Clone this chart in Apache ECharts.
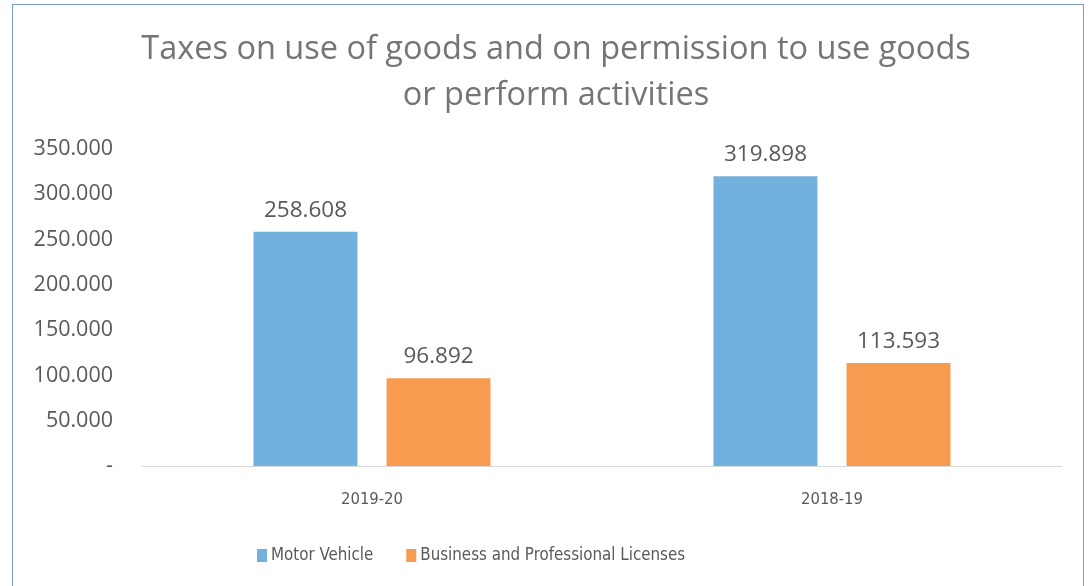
<!DOCTYPE html>
<html><head><meta charset="utf-8">
<script src="https://cdn.jsdelivr.net/npm/echarts@6/dist/echarts.min.js"></script>
<style>
html,body{margin:0;padding:0;background:#fff;}
#wrap{position:relative;width:1089px;height:586px;overflow:hidden;}
#frame{position:absolute;left:12px;top:4px;width:1072px;height:600px;border:1.5px solid #7f9bd3;box-sizing:border-box;pointer-events:none;z-index:2;}
#chart{position:absolute;left:0;top:0;width:1089px;height:586px;}
</style></head>
<body><div id="wrap"><div id="chart"></div><div id="frame"></div></div>
<script>
const titleText = 'Taxes on use of goods and on permission to use goods\nor perform activities';
const categories = ['2019-20', '2018-19'];
const motorVehicle = [258.608, 319.898];
const businessLicenses = [96.892, 113.593];
const seriesNames = ['Motor Vehicle', 'Business and Professional Licenses'];

const narrow = "'DejaVu Sans Condensed', sans-serif";
const chart = echarts.init(document.getElementById('chart'));
const fmt = v => v.toFixed(3);
chart.setOption({
  animation: false,
  title: {
    text: titleText, left: 551, textAlign: 'center', top: 22,
    textStyle: {fontFamily: 'Open Sans', fontSize: 32.5, fontWeight: 'normal', color: '#757575', lineHeight: 46}
  },
  legend: {
    top: 542, left: 252, itemWidth: 10, itemHeight: 13, itemGap: 33,
    icon: 'rect',
    textStyle: {fontFamily: narrow, fontSize: 16.8, color: '#595959', padding: [0, 0, 0, -1]},
    data: seriesNames
  },
  grid: {left: 142, right: 27, top: 149, bottom: 120},
  xAxis: {
    type: 'category', data: categories,
    axisLine: {lineStyle: {color: '#d9d9d9'}},
    axisTick: {show: false},
    axisLabel: {fontFamily: narrow, fontSize: 16.5, color: '#595959', margin: 25}
  },
  yAxis: {
    type: 'value', min: 0, max: 350, interval: 50,
    splitLine: {show: false},
    axisLine: {show: false}, axisTick: {show: false},
    axisLabel: {fontFamily: 'Open Sans', fontSize: 21.5, color: '#595959', margin: 29,
      formatter: v => v === 0 ? '-' : fmt(v)}
  },
  series: [
    {name: seriesNames[0], type: 'bar', data: motorVehicle, barWidth: '22.6%', barGap: '28%',
      itemStyle: {color: '#72b1dd'},
      label: {show: true, position: 'top', distance: 10, fontFamily: 'Open Sans', fontSize: 22.5, color: '#595959', formatter: p => fmt(p.value)}},
    {name: seriesNames[1], type: 'bar', data: businessLicenses, barWidth: '22.6%',
      itemStyle: {color: '#f79b50'},
      label: {show: true, position: 'top', distance: 10, fontFamily: 'Open Sans', fontSize: 22.5, color: '#595959', formatter: p => fmt(p.value)}}
  ]
});
</script></body></html>
